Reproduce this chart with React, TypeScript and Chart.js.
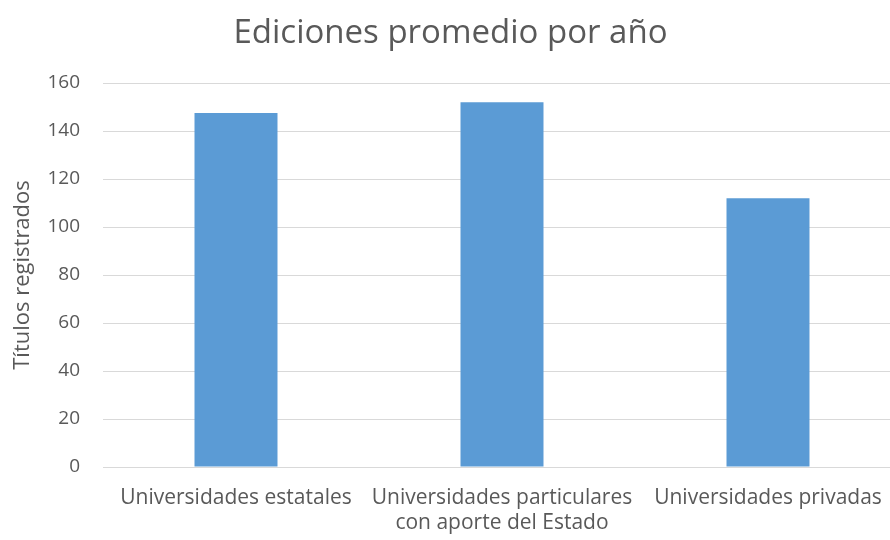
import React, { useEffect, useRef } from "react";
import { Chart, registerables } from "chart.js";

Chart.register(...registerables);

const chartTitle = "Ediciones promedio por año";
const yAxisTitle = "Títulos registrados";
const categories: (string | string[])[] = [
  "Universidades estatales",
  ["Universidades particulares", "con aporte del Estado"],
  "Universidades privadas",
];
const values = [147.5, 152, 112];
const yTicks = [0, 20, 40, 60, 80, 100, 120, 140, 160];

const FONT = "'Open Sans', 'DejaVu Sans', sans-serif";
const TEXT = "#595959";

export default function App() {
  const ref = useRef<HTMLCanvasElement | null>(null);

  useEffect(() => {
    if (!ref.current) return;
    const chart = new Chart(ref.current, {
      type: "bar",
      data: {
        labels: categories,
        datasets: [
          {
            label: "Ediciones",
            data: values,
            backgroundColor: "#5b9bd5",
            borderWidth: 0,
            categoryPercentage: 1,
            barPercentage: 0.312,
          },
        ],
      },
      options: {
        animation: false,
        responsive: false,
        maintainAspectRatio: false,
        layout: { padding: 0 },
        plugins: {
          legend: { display: false },
          tooltip: { enabled: false },
          title: {
            display: true,
            text: chartTitle,
            color: TEXT,
            font: { family: FONT, size: 33, weight: "normal", lineHeight: 1.2 },
            padding: { top: 14, bottom: 29.4 },
          },
        },
        scales: {
          x: {
            grid: { display: false, drawTicks: false },
            border: { display: true, color: "#d9d9d9", width: 1 },
            ticks: {
              color: TEXT,
              font: { family: FONT, size: 21, lineHeight: 1.19 },
              padding: 19,
              maxRotation: 0,
              autoSkip: false,
            },
            afterFit: (s: any) => {
              s.height = 73;
            },
          },
          y: {
            min: 0,
            max: 160,
            afterBuildTicks: (s: any) => {
              s.ticks = yTicks.map((v) => ({ value: v }));
            },
            grid: { color: "#d9d9d9", drawTicks: false, lineWidth: 1 },
            border: { display: false },
            ticks: {
              color: TEXT,
              font: { family: FONT, size: 19 },
              padding: 23,
            },
            title: {
              display: true,
              text: yAxisTitle,
              color: TEXT,
              font: { family: FONT, size: 22, lineHeight: 1.2 },
              padding: { top: 10, bottom: 0 },
            },
            afterFit: (s: any) => {
              s.width = 103;
            },
          },
        },
      },
    });
    return () => chart.destroy();
  }, []);

  return (
    <div
      style={{
        position: "fixed",
        left: 0,
        top: 0,
        width: 890,
        height: 540,
        overflow: "hidden",
        background: "#fff",
      }}
    >
      <canvas ref={ref} width={901} height={540} style={{ width: 901, height: 540, display: "block" }} />
    </div>
  );
}
